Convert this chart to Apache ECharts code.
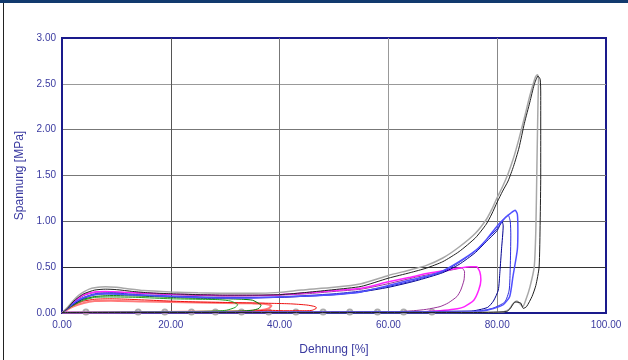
<!DOCTYPE html>
<html>
<head>
<meta charset="utf-8">
<script src="https://cdn.jsdelivr.net/npm/echarts@6/dist/echarts.min.js"></script>
<style>
	html, body { margin: 0; padding: 0; background: #fff; }
	#chart-container { width: 628px; height: 360px; }
</style>
</head>
<body>
<div id="chart-container"></div>
<script>
// Dehnung [%], Spannung [MPa] pairs for each cycle
const grayLoop = [[0,0],[1,0.06],[2,0.13],[3,0.19],[4,0.23],[5,0.26],[6,0.275],[8,0.287],[10,0.28],[12,0.265],[15,0.245],[20,0.23],[25,0.22],[30,0.215],[35,0.215],[40,0.225],[44,0.25],[50,0.28],[55,0.32],[60,0.41],[64,0.47],[67,0.52],[70,0.6],[73,0.72],[76,0.87],[78,1.02],[79,1.13],[80,1.26],[81,1.38],[82,1.52],[83,1.69],[84,1.9],[85,2.13],[86,2.37],[87,2.57],[87.4,2.6],[87.6,2.56],[87.5,2.3],[87.3,1.6],[87.1,0.9],[86.8,0.5],[86,0.28],[85.3,0.15],[84.7,0.07],[84.2,0.1],[83.6,0.13],[82.9,0.1],[82.2,0.04],[81,0.01],[70,0.005],[0,0.005]];
const blackLoop = [[0,0],[1,0.05],[2,0.12],[3,0.17],[4,0.21],[6,0.25],[8,0.26],[10,0.255],[13,0.235],[16,0.22],[20,0.21],[25,0.2],[30,0.195],[35,0.195],[40,0.2],[45,0.225],[50,0.255],[55,0.29],[60,0.38],[64,0.44],[67,0.49],[70,0.56],[73,0.67],[76,0.82],[78,0.97],[79,1.08],[80,1.21],[81,1.33],[82,1.44],[83,1.6],[84,1.8],[85,2.07],[86,2.3],[86.8,2.49],[87.5,2.585],[87.9,2.55],[88.0,2.4],[88.0,1.5],[87.9,1.0],[87.7,0.5],[87.1,0.3],[86.4,0.18],[85.4,0.07],[84.8,0.05],[84.3,0.11],[83.3,0.12],[82.4,0.05],[81.7,0.015],[75,0.005],[0,0.005]];
const blueLoop = [[0,0],[1,0.05],[2,0.1],[3,0.14],[4,0.17],[6,0.2],[8,0.21],[10,0.205],[14,0.195],[20,0.18],[25,0.17],[30,0.165],[35,0.165],[40,0.175],[45,0.185],[50,0.2],[55,0.23],[60,0.3],[64,0.36],[67,0.4],[70,0.46],[73,0.56],[76,0.68],[78,0.8],[80,0.95],[81.5,1.04],[82.5,1.09],[83.3,1.12],[83.7,1.08],[83.8,0.9],[83.7,0.69],[82.9,0.4],[82.3,0.18],[81.1,0.09],[79.3,0.05],[77,0.02],[70,0.005],[0,0.005]];
const midBlueLoop = [[0,0],[2,0.1],[4,0.17],[6,0.21],[9,0.22],[14,0.2],[20,0.185],[30,0.17],[40,0.175],[50,0.21],[55,0.24],[60,0.29],[65,0.36],[70,0.45],[73,0.55],[76,0.68],[78,0.8],[80,0.92],[81.2,1.02],[82,1.07],[82.4,1.0],[82.5,0.85],[82.4,0.5],[82.2,0.25],[81.4,0.12],[79.1,0.05],[76,0.02],[0,0.005]];
const navyLoop = [[0,0],[2,0.09],[4,0.16],[6,0.2],[9,0.21],[14,0.195],[20,0.18],[30,0.165],[40,0.17],[50,0.2],[55,0.23],[60,0.28],[65,0.35],[70,0.44],[73,0.53],[76,0.66],[78,0.78],[80,0.9],[80.9,1.0],[81.1,0.95],[80.8,0.7],[80.5,0.45],[80.2,0.25],[79.3,0.13],[78.2,0.06],[75,0.02],[0,0.005]];
const magentaLoop = [[0,0],[1,0.05],[2,0.11],[3,0.16],[4,0.2],[6,0.23],[8,0.235],[10,0.23],[14,0.22],[20,0.205],[25,0.2],[30,0.19],[35,0.19],[40,0.2],[45,0.22],[50,0.245],[55,0.27],[60,0.34],[64,0.39],[67,0.43],[70,0.46],[73,0.49],[75,0.505],[76.2,0.505],[76.8,0.45],[77,0.36],[76.6,0.25],[75.7,0.14],[74,0.07],[72,0.04],[69.5,0.025],[65,0.01],[0,0.005]];
const purpleLoop = [[0,0],[2,0.11],[4,0.19],[6,0.225],[9,0.23],[14,0.215],[20,0.2],[30,0.185],[40,0.195],[45,0.21],[50,0.235],[55,0.26],[60,0.32],[65,0.39],[70,0.45],[72.5,0.48],[73.5,0.49],[74,0.45],[73.9,0.36],[73.3,0.25],[72.6,0.18],[71,0.11],[69.5,0.07],[67,0.04],[64.6,0.025],[60,0.01],[0,0.005]];
const redLoop = [[0,0],[1,0.04],[2,0.08],[3,0.11],[4,0.13],[6,0.15],[9,0.155],[12,0.15],[16,0.14],[20,0.13],[25,0.12],[30,0.115],[35,0.11],[38.8,0.105],[42,0.1],[45,0.087],[46.5,0.07],[46.8,0.055],[46,0.03],[45,0.025],[41,0.025],[37.5,0.03],[35,0.02],[30,0.01],[0,0.005]];
const pinkLoop = [[0,0],[2,0.07],[4,0.11],[6,0.13],[9,0.135],[15,0.125],[20,0.12],[25,0.115],[30,0.11],[35,0.105],[37,0.1],[38.5,0.08],[38,0.05],[36.5,0.03],[33,0.02],[0,0.005]];
const greenLoop = [[0,0],[2,0.09],[4,0.15],[6,0.18],[9,0.19],[14,0.185],[20,0.17],[25,0.16],[30,0.155],[33,0.15],[35,0.14],[36.3,0.1],[36.6,0.087],[36.2,0.05],[35,0.03],[32,0.02],[28,0.015],[0,0.005]];
const lightGreenLoop = [[0,0],[2,0.08],[4,0.14],[6,0.17],[9,0.175],[14,0.17],[20,0.155],[25,0.15],[29,0.145],[31,0.13],[32.3,0.09],[31.8,0.06],[30.2,0.03],[27,0.02],[22,0.015],[0,0.005]];
// small grey circles sitting on the x axis
const baseMarks = [[4.4,0.012],[14,0.012],[18.9,0.012],[23.8,0.012],[28.2,0.012],[33,0.012],[38,0.012],[43,0.012],[48,0.012],[52.9,0.012],[58,0.012],[62.8,0.012],[68,0.012]];

const xTicks = [0, 20, 40, 60, 80, 100];
const yTicks = [0, 0.5, 1, 1.5, 2, 2.5, 3];

const labelColor = '#3a3aa0';
const frameColor = '#1a1a8c';

function loop(name, data, color, width) {
	return {
		name: name,
		type: 'line',
		data: data,
		showSymbol: false,
		smooth: 0.2,
		lineStyle: {color: color, width: width},
		z: 3
	};
}

let chart_options = {
	animation: false,
	backgroundColor: '#fff',
	grid: {
		left: 62,
		right: 22,
		top: 38,
		bottom: 47,
		show: true,
		borderColor: frameColor,
		borderWidth: 2,
		outerBoundsMode: 'none'
	},
	xAxis: {
		type: 'value',
		min: xTicks[0],
		max: xTicks[xTicks.length - 1],
		interval: 20,
		name: 'Dehnung [%]',
		nameLocation: 'middle',
		nameGap: 31,
		nameTextStyle: {color: labelColor, fontSize: 12, fontFamily: 'Liberation Sans'},
		axisLine: {show: true, lineStyle: {color: frameColor, width: 2}},
		axisTick: {show: false},
		axisLabel: {
			color: labelColor, fontSize: 10, fontFamily: 'Liberation Sans', margin: 7,
			formatter: v => v.toFixed(2)
		},
		splitLine: {show: true, lineStyle: {color: [frameColor, '#555', '#777', '#999', '#888', frameColor], width: 1}}
	},
	yAxis: {
		type: 'value',
		min: yTicks[0],
		max: yTicks[yTicks.length - 1],
		interval: 0.5,
		name: 'Spannung [MPa]',
		nameLocation: 'middle',
		nameGap: 35,
		nameTextStyle: {color: labelColor, fontSize: 12, fontFamily: 'Liberation Sans'},
		axisLine: {show: true, lineStyle: {color: frameColor, width: 2}},
		axisTick: {show: false},
		axisLabel: {
			color: labelColor, fontSize: 10, fontFamily: 'Liberation Sans', margin: 6,
			formatter: v => v.toFixed(2)
		},
		splitLine: {show: true, lineStyle: {color: [frameColor, '#333', '#666', '#777', '#777', '#999', frameColor], width: 1}}
	},
	graphic: [
		{type: 'rect', shape: {x: 0, y: 0, width: 628, height: 3}, style: {fill: '#123a6e'}},
		{type: 'rect', shape: {x: 3, y: 3, width: 1, height: 357}, style: {fill: '#222'}}
	],
	series: [
		loop('pink', pinkLoop, '#ff7a7a', 2),
		loop('red', redLoop, '#ee1111', 1),
		loop('lightgreen', lightGreenLoop, '#22a022', 1),
		loop('green', greenLoop, '#007a00', 1),
		loop('purple', purpleLoop, '#993399', 1),
		loop('magenta', magentaLoop, '#ff22ff', 1.5),
		loop('navy', navyLoop, '#000090', 1),
		loop('midblue', midBlueLoop, '#2a2ad8', 1),
		loop('blue', blueLoop, '#5050ff', 1.5),
		loop('gray', grayLoop, '#a8a8a8', 1.5),
		loop('black', blackLoop, '#202020', 1),
		{
			name: 'marks',
			type: 'scatter',
			data: baseMarks,
			symbol: 'emptyCircle',
			symbolSize: 5,
			itemStyle: {color: '#999', borderWidth: 1},
			z: 2
		}
	]
};

const chart = echarts.init(document.getElementById('chart-container'), null, {renderer: 'canvas'});
chart.setOption(chart_options);
</script>
</body>
</html>
